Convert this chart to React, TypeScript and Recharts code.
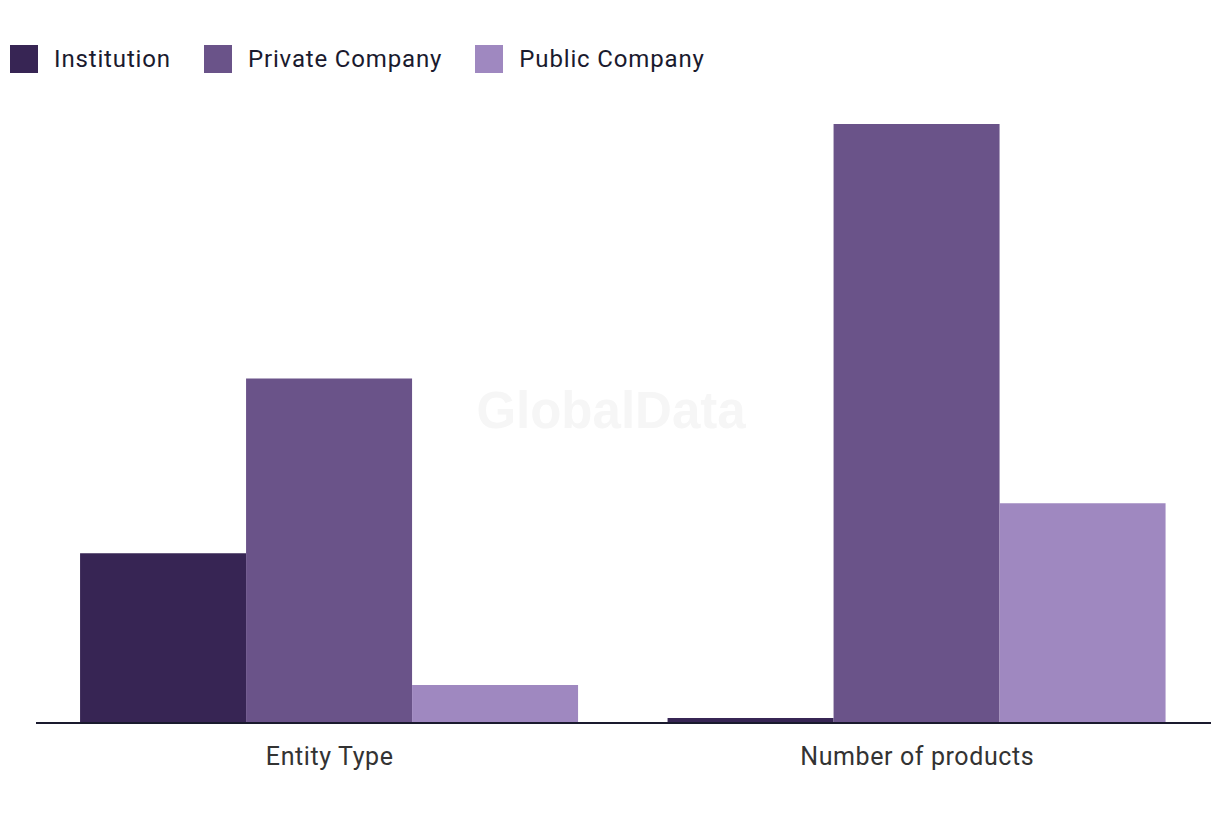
import { Bar, BarChart, XAxis, YAxis } from "recharts";

const categories = ["Entity Type", "Number of products"];
const institution = [34, 1];
const privateCompany = [69, 120];
const publicCompany = [7.6, 44];

const seriesNames = ["Institution", "Private Company", "Public Company"];
const seriesKeys = ["institution", "privateCompany", "publicCompany"];
const seriesColors = ["#372554", "#6a5389", "#9f88c0"];

const data = categories.map((name, i) => ({
  name,
  institution: institution[i],
  privateCompany: privateCompany[i],
  publicCompany: publicCompany[i]
}));

const font = "Roboto, 'Noto Sans', sans-serif";

export default function App() {
  return (
    <div style={{ position: "absolute", left: 0, top: 0, width: 1220, height: 820, background: "#fff", fontFamily: font }}>
      <div
        style={{
          position: "absolute",
          left: 10,
          top: 45,
          display: "flex",
          alignItems: "center",
          gap: 33
        }}
      >
        {seriesNames.map((n, i) => (
          <div key={n} style={{ display: "flex", alignItems: "center" }}>
            <span style={{ width: 28, height: 28, background: seriesColors[i], display: "inline-block", marginRight: 16 }} />
            <span style={{ fontSize: 24, letterSpacing: 0.85, color: "#1a1a2e", lineHeight: "28px" }}>{n}</span>
          </div>
        ))}
      </div>
      <div
        style={{
          position: "absolute",
          left: 0,
          width: 1222,
          top: 381,
          textAlign: "center",
          fontSize: 51,
          fontWeight: 700,
          color: "#f6f6f6",
          fontFamily: "'Liberation Sans', Arial, sans-serif",
          pointerEvents: "none"
        }}
      >
        GlobalData
      </div>
      <BarChart
        width={1220}
        height={820}
        data={data}
        margin={{ top: 124, right: 9, left: 36, bottom: 67 }}
        barCategoryGap="7.5%"
        barGap={0}
        style={{ position: "absolute", left: 0, top: 0 }}
      >
        <XAxis
          dataKey="name"
          axisLine={{ stroke: "#1a1a2e", strokeWidth: 2 }}
          tickLine={false}
          tickMargin={18}
          tick={{ fill: "#333", fontSize: 25, letterSpacing: 0.6, fontFamily: font }}
        />
        <YAxis hide domain={[0, 120]} />
        {seriesKeys.map((k, i) => (
          <Bar key={k} dataKey={k} name={seriesNames[i]} fill={seriesColors[i]} isAnimationActive={false} />
        ))}
      </BarChart>
    </div>
  );
}
